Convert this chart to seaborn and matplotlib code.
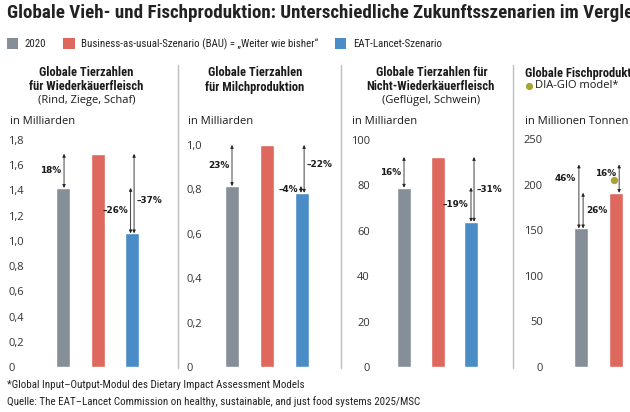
import matplotlib
matplotlib.use("Agg")
import matplotlib.pyplot as plt
import seaborn as sns
import pandas as pd
from matplotlib import font_manager as fm
from matplotlib.patches import Patch
from matplotlib.lines import Line2D

# ---------------- data ----------------
scenarios = ["2020", "BAU", "EAT-Lancet"]
legend_labels = ["2020", "Business-as-usual-Szenario (BAU) = „Weiter wie bisher“", "EAT-Lancet-Szenario"]
ruminant = [1.42, 1.69, 1.06]
dairy = [0.815, 1.00, 0.785]
nonruminant = [79.0, 92.5, 64.0]
fish = [152.0, 191.0, 222.0]
fish_diagio_bau = 205.0

ticks_ruminant = [0, 0.2, 0.4, 0.6, 0.8, 1.0, 1.2, 1.4, 1.6, 1.8]
ticks_dairy = [0, 0.2, 0.4, 0.6, 0.8, 1.0]
ticks_nonruminant = [0, 20, 40, 60, 80, 100]
ticks_fish = [0, 50, 100, 150, 200, 250]

# annotations: (from bar, to level of bar, x-offset, label, side, label value)
ann_ruminant = [(0, 1, 0.03, "18%", "left", None), (2, 0, -0.04, "–26%", "left", None),
                (2, 1, 0.06, "–37%", "right", 1.32)]
ann_dairy = [(0, 1, 0.0, "23%", "left", None), (2, 0, -0.03, "–4%", "left", None),
             (2, 1, 0.06, "–22%", "right", 0.91)]
ann_nonruminant = [(0, 1, 0.0, "16%", "left", None), (2, 0, -0.0, "–19%", "left", None),
                   (2, 1, 0.09, "–31%", "right", None)]
ann_fish = [(0, 2, -0.06, "46%", "left", 207), (0, 1, 0.06, "26%", "right", None),
            (1, 2, 0.09, "16%", "left", 212)]

colors = ["#868E97", "#DE685E", "#4A8CC6"]
dot_color = "#A9A535"

# ---------------- style ----------------
sns.set_theme(style="white")
names = {f.name for f in fm.fontManager.ttflist}
cond = "DejaVu Sans"
for cand in ["Liberation Sans Narrow", "Roboto Condensed", "Open Sans Condensed", "DejaVu Sans Condensed"]:
    if cand in names:
        cond = cand
        break
reg = "Open Sans" if "Open Sans" in names else "DejaVu Sans"
plt.rcParams["font.family"] = [reg, "DejaVu Sans"]
COND = [cond, "DejaVu Sans"]

W, H = 630, 412
fig = plt.figure(figsize=(W / 100, H / 100), dpi=100)
fig.patch.set_facecolor("white")


def fx(x):
    return x / W


def fy(y):
    return 1 - y / H


TXT = "#1a1a1a"
BASE_Y = 367


def fmt(t):
    if t == 0:
        return "0"
    if float(t).is_integer() and t >= 10:
        return "%d" % t
    return ("%.1f" % t).replace(".", ",")


panels = [
    # data, ticks, left px, first bar center px, spacing px, top px, right px, ann, left-aligned, label start
    (ruminant, ticks_ruminant, 35, 63, 34.5, 140, 172, ann_ruminant, True, 10),
    (dairy, ticks_dairy, 213, 232, 35.0, 145, 340, ann_dairy, True, 188),
    (nonruminant, ticks_nonruminant, 381, 404, 33.5, 140, 512, ann_nonruminant, False, None),
    (fish, ticks_fish, 554, 581, 35.0, 139, 700, ann_fish, False, None),
]

axes = []
for vals, ticks, left, c0, sp, top, right, anns, left_al, lstart in panels:
    ax = fig.add_axes([fx(left), fy(BASE_Y), (right - left) / W, (BASE_Y - top) / H])
    df = pd.DataFrame({"scenario": scenarios, "value": vals})
    sns.barplot(data=df, x="scenario", y="value", hue="scenario", palette=colors,
                order=scenarios, hue_order=scenarios, width=14 / sp, errorbar=None,
                legend=False, ax=ax, saturation=1)
    ax.set_xlim((left - c0) / sp, (right - c0) / sp)
    ax.set_ylim(0, ticks[-1])
    ax.set_yticks(ticks)
    ax.set_yticklabels([fmt(t) for t in ticks])
    ax.set_xticks([])
    ax.set_xlabel("")
    ax.set_ylabel("")
    for s in ax.spines.values():
        s.set_visible(False)
    ax.patch.set_alpha(0)
    if left_al:
        pad_px = (left - 4) - lstart
        ax.tick_params(axis="y", length=4, width=0.8, color="#444444", pad=pad_px * 0.72,
                       labelsize=8, labelcolor="#333333")
        for lb in ax.get_yticklabels():
            lb.set_horizontalalignment("left")
    else:
        ax.tick_params(axis="y", length=4, width=0.8, color="#444444", pad=4,
                       labelsize=8, labelcolor="#333333")
    # arrows
    for b_from, b_to, off, lab, side, ly in anns:
        x = b_from + off
        y0, y1 = vals[b_from], vals[b_to]
        ax.annotate("", xy=(x, y1), xytext=(x, y0),
                    arrowprops=dict(arrowstyle="<|-|>", lw=0.6, color="#222222",
                                    shrinkA=0, shrinkB=0, mutation_scale=4.5))
        yl = ly if ly is not None else (y0 + y1) / 2
        dx = -0.08 if side == "left" else 0.08
        ax.text(x + dx, yl, lab, ha="right" if side == "left" else "left", va="center",
                fontsize=6.4, fontweight="bold", color=TXT, family="DejaVu Sans")
    axes.append(ax)

# DIA-GIO dot
axes[3].scatter([1 - 0.05], [fish_diagio_bau], s=28, color=dot_color, zorder=5, linewidths=0)

# dividers
for xd in [178, 341, 513]:
    fig.add_artist(Line2D([fx(xd), fx(xd)], [fy(65), fy(368)], color="#BDBDBD", lw=1.0))

# title
fig.text(fx(7), fy(13), "Globale Vieh- und Fischproduktion: Unterschiedliche Zukunftsszenarien im Vergleich",
         fontsize=13.7, fontweight="bold", color="#222222", va="center", ha="left", family=COND)

# legend
handles = [Patch(facecolor=c, edgecolor="none") for c in colors]
fig.legend(handles, legend_labels, loc="center left", bbox_to_anchor=(fx(7), fy(44)), ncol=3,
           frameon=False, handlelength=1.05, handleheight=1.05, handletextpad=0.6,
           columnspacing=1.55, labelcolor="#222222", borderaxespad=0, borderpad=0,
           prop=fm.FontProperties(family=COND, size=7.8))

# panel headers
hdr = dict(ha="center", va="center", color=TXT)
bold = dict(fontsize=9, fontweight="bold", family=COND)
sub = dict(fontsize=8)
fig.text(fx(86), fy(73), "Globale Tierzahlen", **hdr, **bold)
fig.text(fx(86), fy(87), "für Wiederkäuerfleisch", **hdr, **bold)
fig.text(fx(87), fy(101), "(Rind, Ziege, Schaf)", **hdr, **sub)
fig.text(fx(255), fy(73), "Globale Tierzahlen", **hdr, **bold)
fig.text(fx(255), fy(87), "für Milchproduktion", **hdr, **bold)
fig.text(fx(432), fy(73), "Globale Tierzahlen für", **hdr, **bold)
fig.text(fx(430), fy(87), "Nicht-Wiederkäuerfleisch", **hdr, **bold)
fig.text(fx(431), fy(101), "(Geflügel, Schwein)", **hdr, **sub)
fig.text(fx(525), fy(73), "Globale Fischproduktion", ha="left", va="center", color=TXT, **bold)
fig.add_artist(Line2D([fx(528.5)], [fy(86)], marker="o", markersize=4.2, color=dot_color, lw=0))
fig.text(fx(535), fy(86), "DIA-GIO model*", ha="left", va="center", fontsize=8, color=TXT)

unit = dict(ha="left", va="center", fontsize=8, color=TXT)
fig.text(fx(10), fy(121), "in Milliarden", **unit)
fig.text(fx(188), fy(121), "in Milliarden", **unit)
fig.text(fx(352), fy(121), "in Milliarden", **unit)
fig.text(fx(525), fy(121), "in Millionen Tonnen", **unit)

# footnotes
foot = dict(ha="left", va="center", fontsize=7.9, color="#222222", family=COND)
fig.text(fx(7), fy(385), "*Global Input–Output-Modul des Dietary Impact Assessment Models", **foot)
fig.text(fx(7), fy(402), "Quelle: The EAT–Lancet Commission on healthy, sustainable, and just food systems 2025/MSC",
         **foot)

fig.savefig("out.png", dpi=100, facecolor="white")
